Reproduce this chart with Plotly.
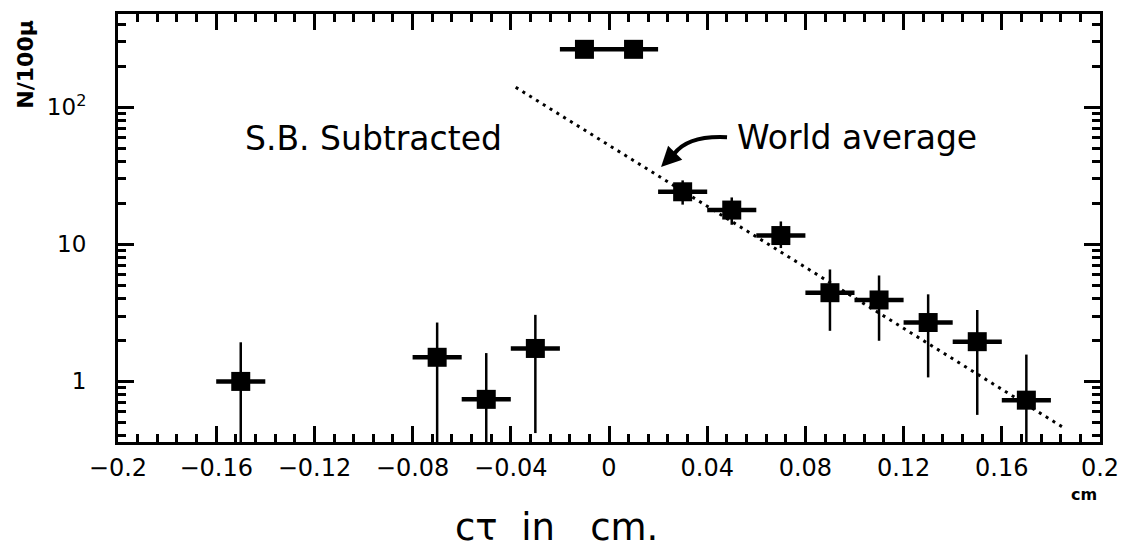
import plotly.graph_objects as go

# ---- data ----
ct_centers = [-0.15, -0.07, -0.05, -0.03, -0.01, 0.01, 0.03, 0.05, 0.07, 0.09, 0.11, 0.13, 0.15, 0.17]
counts     = [1.0, 1.5, 0.74, 1.74, 265, 265, 24.2, 17.8, 11.6, 4.44, 3.93, 2.69, 1.95, 0.73]
err_plus   = [0.93, 1.19, 0.87, 1.32, 16, 16, 5.1, 4.2, 3.1, 2.12, 2.0, 1.63, 1.37, 0.84]
err_minus  = [0.75, 1.25, 0.5, 1.32, 16, 16, 4.7, 3.9, 2.2, 2.1, 1.95, 1.62, 1.38, 0.5]
bin_half_width = 0.01

world_avg_x = [-0.038, 0.186]
world_avg_y = [140, 0.45]

x_tickvals = [-0.2, -0.16, -0.12, -0.08, -0.04, 0, 0.04, 0.08, 0.12, 0.16, 0.2]
x_ticktext = ["\u22120.2", "\u22120.16", "\u22120.12", "\u22120.08", "\u22120.04", "0",
              "0.04", "0.08", "0.12", "0.16", "0.2"]
y_tickvals = [1, 10, 100]
y_ticktext = ["1", "10", "10<sup>2</sup>"]
y_minor = [0.4, 0.5, 0.6, 0.7, 0.8, 0.9, 2, 3, 4, 5, 6, 7, 8, 9,
           20, 30, 40, 50, 60, 70, 80, 90, 200, 300, 400]

FONT = "DejaVu Sans"

fig = go.Figure()

fig.add_trace(go.Scatter(
    x=world_avg_x, y=world_avg_y, mode="lines",
    line=dict(color="black", width=3, dash="3px,5px"),
    showlegend=False, hoverinfo="skip"))

fig.add_trace(go.Scatter(
    x=ct_centers, y=counts, mode="markers",
    marker=dict(symbol="square", size=19, color="black"),
    error_y=dict(type="data", array=err_plus, arrayminus=err_minus,
                 color="black", thickness=2.5, width=0),
    error_x=dict(type="constant", value=bin_half_width,
                 color="black", thickness=4.5, width=0),
    showlegend=False))

axis_common = dict(
    showgrid=False, zeroline=False, showline=True, linecolor="black",
    linewidth=3, mirror="ticks", ticks="inside", tickcolor="black",
    tickwidth=2.5,
)

fig.update_xaxes(
    range=[-0.2, 0.2], tickvals=x_tickvals, ticktext=x_ticktext,
    ticklen=16, tickfont=dict(family=FONT, size=24, color="black"),
    minor=dict(dtick=0.008, tick0=-0.2, ticks="inside", ticklen=8,
               tickwidth=2.5, tickcolor="black"),
    ticklabelstandoff=2,
    **axis_common)

fig.update_yaxes(
    type="log", range=[-0.442, 2.681], tickvals=y_tickvals, ticktext=y_ticktext,
    ticklen=16, tickfont=dict(family=FONT, size=23, color="black"),
    minor=dict(tickvals=y_minor, ticks="inside", ticklen=8,
               tickwidth=2.5, tickcolor="black"),
    ticklabelstandoff=24,
    **axis_common)

annotations = [
    dict(text="S.B. Subtracted", x=-0.149, y=1.775, xref="x", yref="y",
         xanchor="left", yanchor="middle", showarrow=False,
         font=dict(family=FONT, size=33, color="black")),
    dict(text="World average", x=0.0513, y=1.783, xref="x", yref="y",
         xanchor="left", yanchor="middle", showarrow=False,
         font=dict(family=FONT, size=33, color="black")),
    # arrow head of the curved pointer
    dict(text="", x=0.5530, y=0.6427, xref="paper", yref="paper",
         ax=13, ay=-13, showarrow=True, arrowhead=2, arrowsize=1,
         arrowwidth=4, arrowcolor="black", standoff=0, startstandoff=0),
    dict(text="c\u03c4  in   cm.", x=0.447, y=-0.2, xref="paper", yref="paper",
         xanchor="center", yanchor="middle", showarrow=False,
         font=dict(family=FONT, size=37, color="black")),
    dict(text="<b>cm</b>", x=0.984, y=-0.122, xref="paper", yref="paper",
         xanchor="center", yanchor="middle", showarrow=False,
         font=dict(family=FONT, size=16, color="black")),
    dict(text="<b>N/100\u03bc</b>", x=-0.0937, y=0.884, xref="paper", yref="paper",
         xanchor="center", yanchor="middle", showarrow=False, textangle=-90,
         font=dict(family=FONT, size=22, color="black")),
]

shapes = [
    dict(type="path", xref="paper", yref="paper",
         path="M 0.6202 0.7123 Q 0.5804 0.7169 0.5662 0.6729",
         line=dict(color="black", width=4)),
]

fig.update_layout(
    width=1131, height=541,
    margin=dict(l=110, r=39, t=3, b=107),
    paper_bgcolor="white", plot_bgcolor="white",
    annotations=annotations, shapes=shapes,
    showlegend=False,
)

fig.write_html("out.html")
